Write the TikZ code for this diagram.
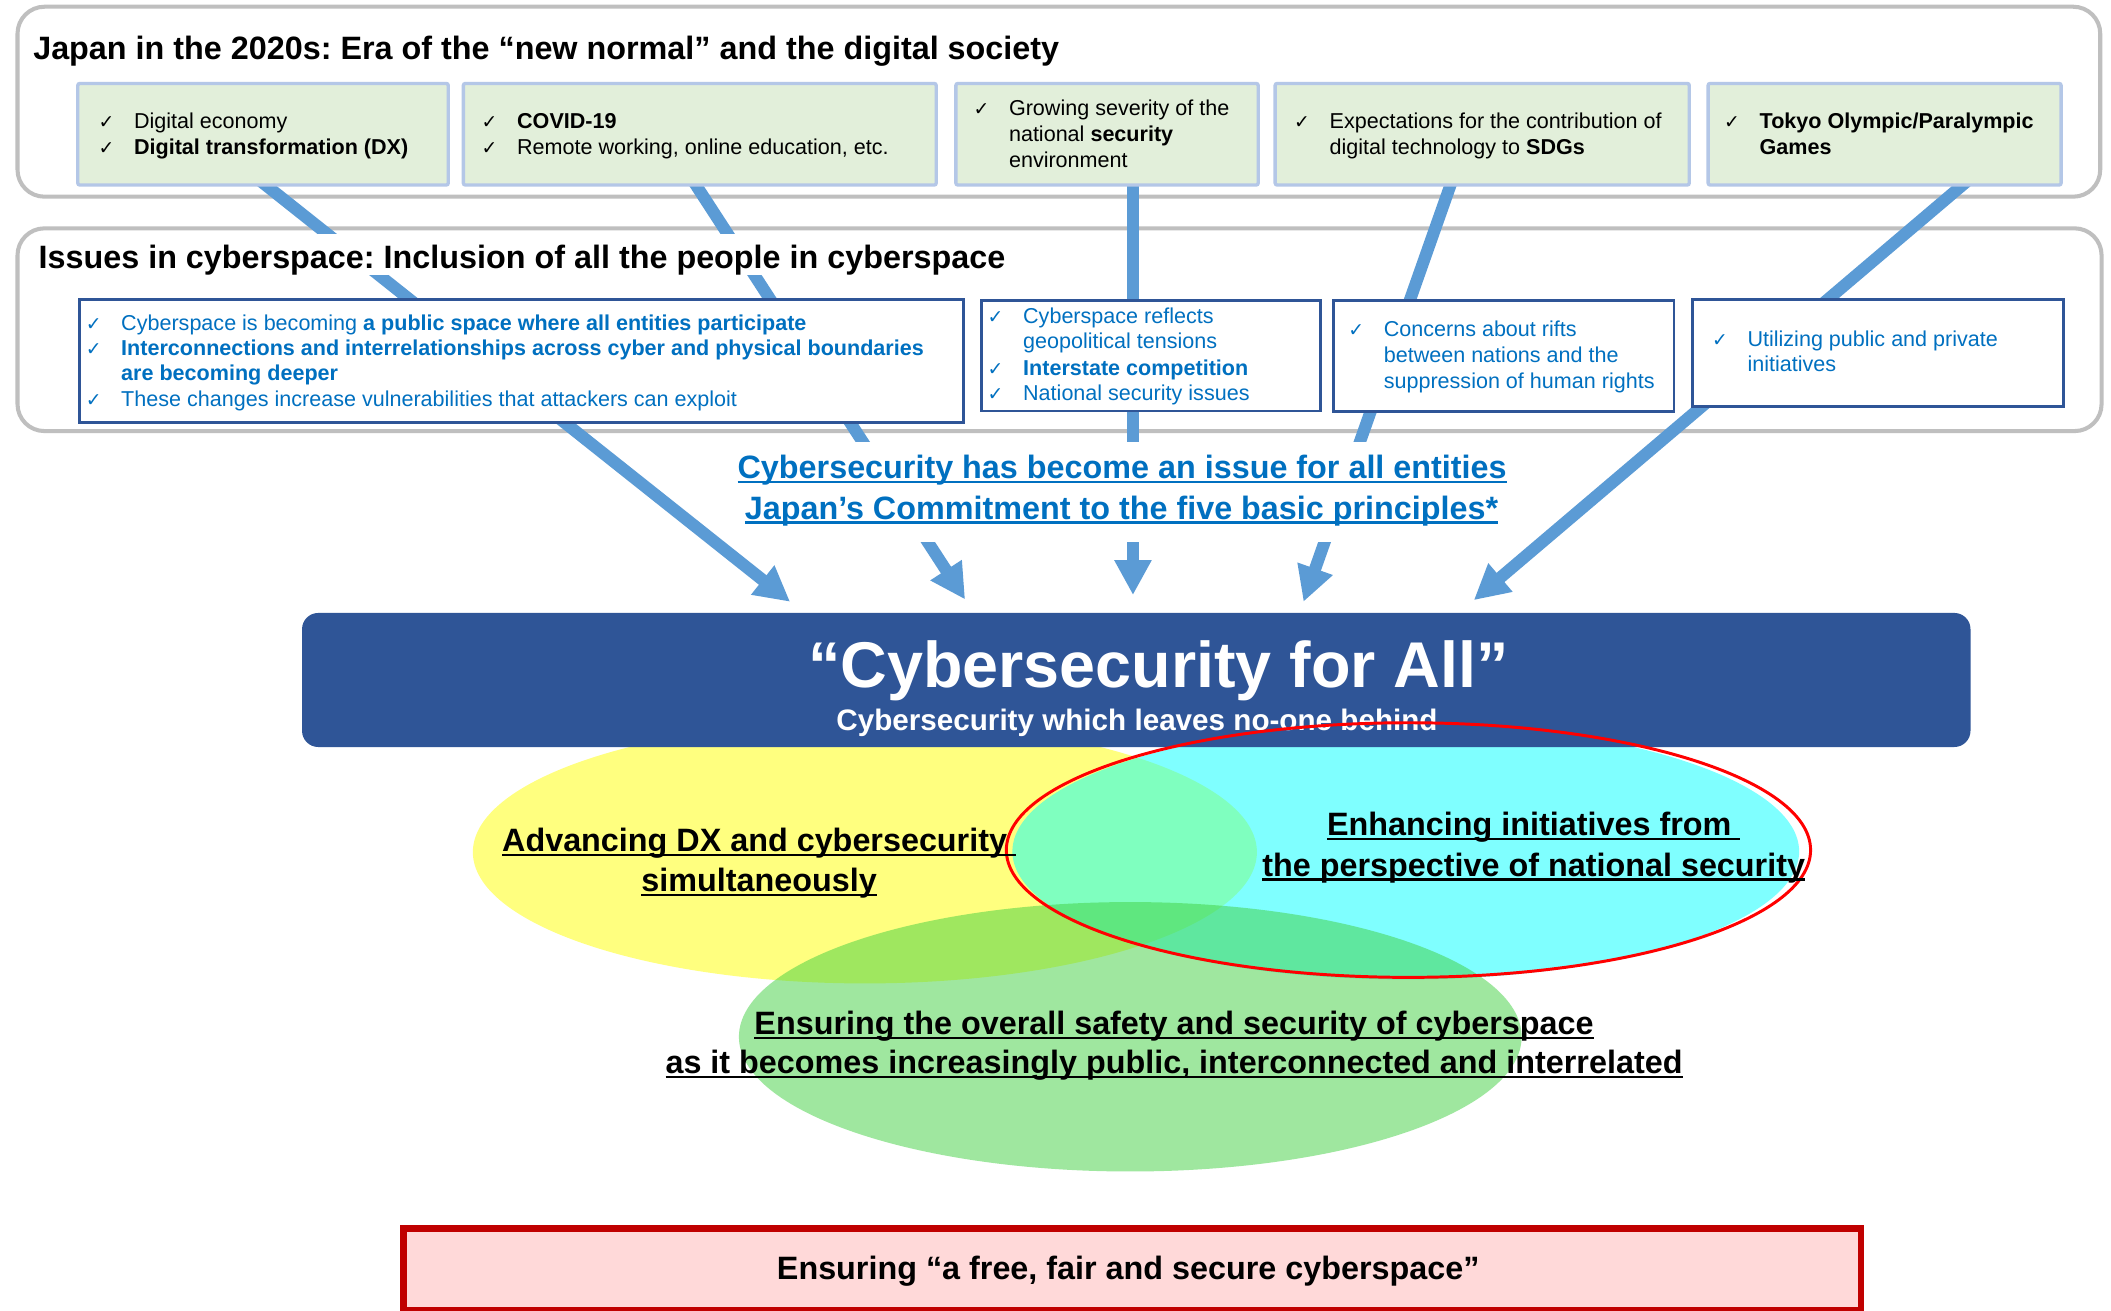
\documentclass[tikz,border=0pt]{standalone}
\usepackage{fontspec}
\setmainfont{Liberation Sans}
\newfontfamily\ckf{DejaVu Sans}
\usetikzlibrary{arrows.meta}
\frenchspacing
\definecolor{arrowblue}{RGB}{91,155,213}
\definecolor{darkblue}{RGB}{47,85,151}
\definecolor{textblue}{RGB}{0,112,192}
\definecolor{gfill}{RGB}{226,239,218}
\definecolor{gborder}{RGB}{180,199,231}
\definecolor{outergray}{RGB}{191,191,191}
\definecolor{pinkfill}{RGB}{255,217,217}
\definecolor{darkred}{RGB}{192,0,0}
\definecolor{venngreen}{RGB}{64,208,64}
\definecolor{vennyellow}{RGB}{255,255,0}
\definecolor{venncyan}{RGB}{0,255,255}
\definecolor{vennred}{RGB}{255,0,0}
\newcommand\ck{\makebox[26.3pt][l]{\ckf\fontsize{14pt}{16pt}\selectfont ✓}}
\newcommand\ulx[1]{\setbox0=\hbox{#1}\rlap{\rule[-3.4pt]{\wd0}{1.8pt}}\box0}
\tikzset{
  outerbox/.style={draw=outergray, line width=3pt, rounded corners=20pt, inner sep=0, anchor=north west},
  greenbox/.style={draw=gborder, fill=gfill, line width=2.5pt, inner sep=0, anchor=north west, rounded corners=1.5pt},
  bluebox/.style={draw=darkblue, fill=white, line width=2.2pt, inner sep=0, anchor=north west},
  bodytext/.style={inner sep=0, anchor=base west, font=\fontsize{16pt}{19pt}\selectfont},
  bluetext/.style={bodytext, text=textblue},
  titletext/.style={inner sep=0, anchor=base west, font=\fontsize{24pt}{29pt}\selectfont\bfseries},
  flow/.style={draw=arrowblue, line width=9pt, -{Triangle[length=26pt,width=26pt]}},
  linktext/.style={inner sep=0, anchor=base, text=textblue, font=\fontsize{24pt}{29pt}\selectfont\bfseries},
  venntext/.style={inner sep=0, anchor=base, font=\fontsize{24pt}{29pt}\selectfont\bfseries},
  vennset/.style={fill opacity=0.5}
}
\begin{document}
\begin{tikzpicture}[x=1pt,y=-1pt]
\useasboundingbox[fill=white] (0,0) rectangle (1567,973);

% outer frames
\node[outerbox, minimum width=1546pt, minimum height=141pt] (ob1) at (11.5,3.5) {};
\node[outerbox, minimum width=1547pt, minimum height=150.5pt] (ob2) at (11.5,168) {};

% arrows
\coordinate (a1s) at (185.4,128);  \coordinate (a1e) at (586.5,446.7);
\coordinate (a2s) at (510.5,128);  \coordinate (a2e) at (716.4,445);
\coordinate (a3s) at (841,128);    \coordinate (a3e) at (841,441.7);
\coordinate (a4s) at (1080,128);   \coordinate (a4e) at (967.6,446.7);
\coordinate (a5s) at (1467.8,128); \coordinate (a5e) at (1094,445.5);
\draw[flow] (a1s) -- (a1e);
\draw[flow] (a2s) -- (a2e);
\draw[flow] (a3s) -- (a3e);
\draw[flow] (a4s) -- (a4e);
\draw[flow] (a5s) -- (a5e);

% top row (green boxes)
\node[greenbox, minimum width=275pt, minimum height=75.4pt] (g1) at (56.5,60.7) {};
\node[greenbox, minimum width=351pt, minimum height=75.4pt] (g2) at (342.7,60.7) {};
\node[greenbox, minimum width=224.4pt, minimum height=75.4pt] (g3) at (708.3,60.7) {};
\node[greenbox, minimum width=307.4pt, minimum height=75.4pt] (g4) at (945.3,60.7) {};
\node[greenbox, minimum width=262pt, minimum height=75.4pt] (g5) at (1266.7,60.7) {};

\node[titletext] (t1) at (24.5,44.3) {Japan in the 2020s: Era of the “new normal” and the digital society};

\node[bodytext] (g1a) at (73,95.3) {\ck Digital economy};
\node[bodytext] (g1b) at (73,114.6) {\ck\textbf{Digital transformation (DX)}};
\node[bodytext] (g2a) at (357.4,95.3) {\ck\textbf{COVID-19}};
\node[bodytext] (g2b) at (357.4,114.6) {\ck Remote working, online education, etc.};
\node[bodytext] (g3a) at (722.5,85.8) {\ck Growing severity of the};
\node[bodytext] (g3b) at (748.8,105.1) {national \textbf{security}};
\node[bodytext] (g3c) at (748.8,124.4) {environment};
\node[bodytext] (g4a) at (960.5,95.3) {\ck Expectations for the contribution of};
\node[bodytext] (g4b) at (986.8,114.6) {digital technology to \textbf{SDGs}};
\node[bodytext] (g5a) at (1279.7,95.3) {\ck\textbf{Tokyo Olympic/Paralympic}};
\node[bodytext] (g5b) at (1306,114.6) {\textbf{Games}};

% second row
\node[titletext, fill=white, text height=25.8pt, text depth=4.5pt] (t2) at (28.5,199.5) {Issues in cyberspace: Inclusion of all the people in cyberspace};

\node[bluebox, minimum width=656pt, minimum height=91.4pt] (b1) at (58.1,221.3) {};
\node[bluebox, minimum width=251.9pt, minimum height=82.2pt] (b2) at (727.4,221.8) {};
\node[bluebox, minimum width=252.4pt, minimum height=82.7pt] (b3) at (989.1,221.8) {};
\node[bluebox, minimum width=275.1pt, minimum height=79.5pt] (b4) at (1255.3,221.4) {};

\node[bluetext] (b1a) at (63.5,245) {\ck Cyberspace is becoming \textbf{a public space where all entities participate}};
\node[bluetext] (b1b) at (63.5,263.8) {\ck\textbf{Interconnections and interrelationships across cyber and physical boundaries}};
\node[bluetext] (b1c) at (89.8,282.6) {\textbf{are becoming deeper}};
\node[bluetext] (b1d) at (63.5,301.5) {\ck These changes increase vulnerabilities that attackers can exploit};
\node[bluetext] (b2a) at (733,240) {\ck Cyberspace reflects};
\node[bluetext] (b2b) at (759.3,259) {geopolitical tensions};
\node[bluetext] (b2c) at (733,278.4) {\ck\textbf{Interstate competition}};
\node[bluetext] (b2d) at (733,297.3) {\ck National security issues};
\node[bluetext] (b3a) at (1000.7,250) {\ck Concerns about rifts};
\node[bluetext] (b3b) at (1027,269) {between nations and the};
\node[bluetext] (b3c) at (1027,288.3) {suppression of human rights};
\node[bluetext] (b4a) at (1270.7,257.4) {\ck Utilizing public and private};
\node[bluetext] (b4b) at (1297,276) {initiatives};

% link text
\node[fill=white, inner sep=0, minimum width=585pt, minimum height=74pt] (lkbg) at (832.5,365) {};
\node[linktext] (lk1) at (833,355.5) {\ulx{Cybersecurity has become an issue for all entities}};
\node[linktext] (lk2) at (832.5,385.5) {\ulx{Japan’s Commitment to the five basic principles*}};

% Venn sets
\fill[vennyellow, vennset] (642,632.5) ellipse [x radius=291pt, y radius=97.5pt];
\fill[venncyan, vennset] (1043.5,632) ellipse [x radius=292pt, y radius=95pt];
\fill[venngreen, vennset] (839,769.6) ellipse [x radius=290.5pt, y radius=100pt];

% central box
\node[fill=darkblue, rounded corners=12pt, minimum width=1238.5pt, minimum height=99.5pt, anchor=north west, inner sep=0] (cfa) at (224,454.8) {};
\node[inner sep=0, anchor=base, text=white, font=\fontsize{48pt}{56pt}\selectfont\bfseries] (cfat) at (860,510) {“Cybersecurity for All”};
\node[inner sep=0, anchor=base, text=white, font=\fontsize{22pt}{26pt}\selectfont\bfseries] (cfas) at (844,542) {Cybersecurity which leaves no-one behind};

\draw[vennred, line width=2.2pt] (1045.5,631) ellipse [x radius=298.5pt, y radius=94.5pt];

\node[venntext] (v1a) at (563.5,632) {\ulx{Advancing DX and cybersecurity }};
\node[venntext] (v1b) at (563.5,662) {\ulx{simultaneously}};
\node[venntext] (v2a) at (1138.5,620.5) {\ulx{Enhancing initiatives from }};
\node[venntext] (v2b) at (1138.5,650.5) {\ulx{the perspective of national security}};
\node[venntext] (v3a) at (871.5,768) {\ulx{Ensuring the overall safety and security of cyberspace}};
\node[venntext] (v3b) at (871.5,797) {\ulx{as it becomes increasingly public, interconnected and interrelated}};

% bottom box
\node[draw=darkred, fill=pinkfill, line width=5pt, inner sep=0, anchor=north west, minimum width=1082pt, minimum height=61pt] (bb) at (297,909.5) {};
\node[venntext] (bbt) at (837.5,950) {Ensuring “a free, fair and secure cyberspace”};
\end{tikzpicture}
\end{document}
